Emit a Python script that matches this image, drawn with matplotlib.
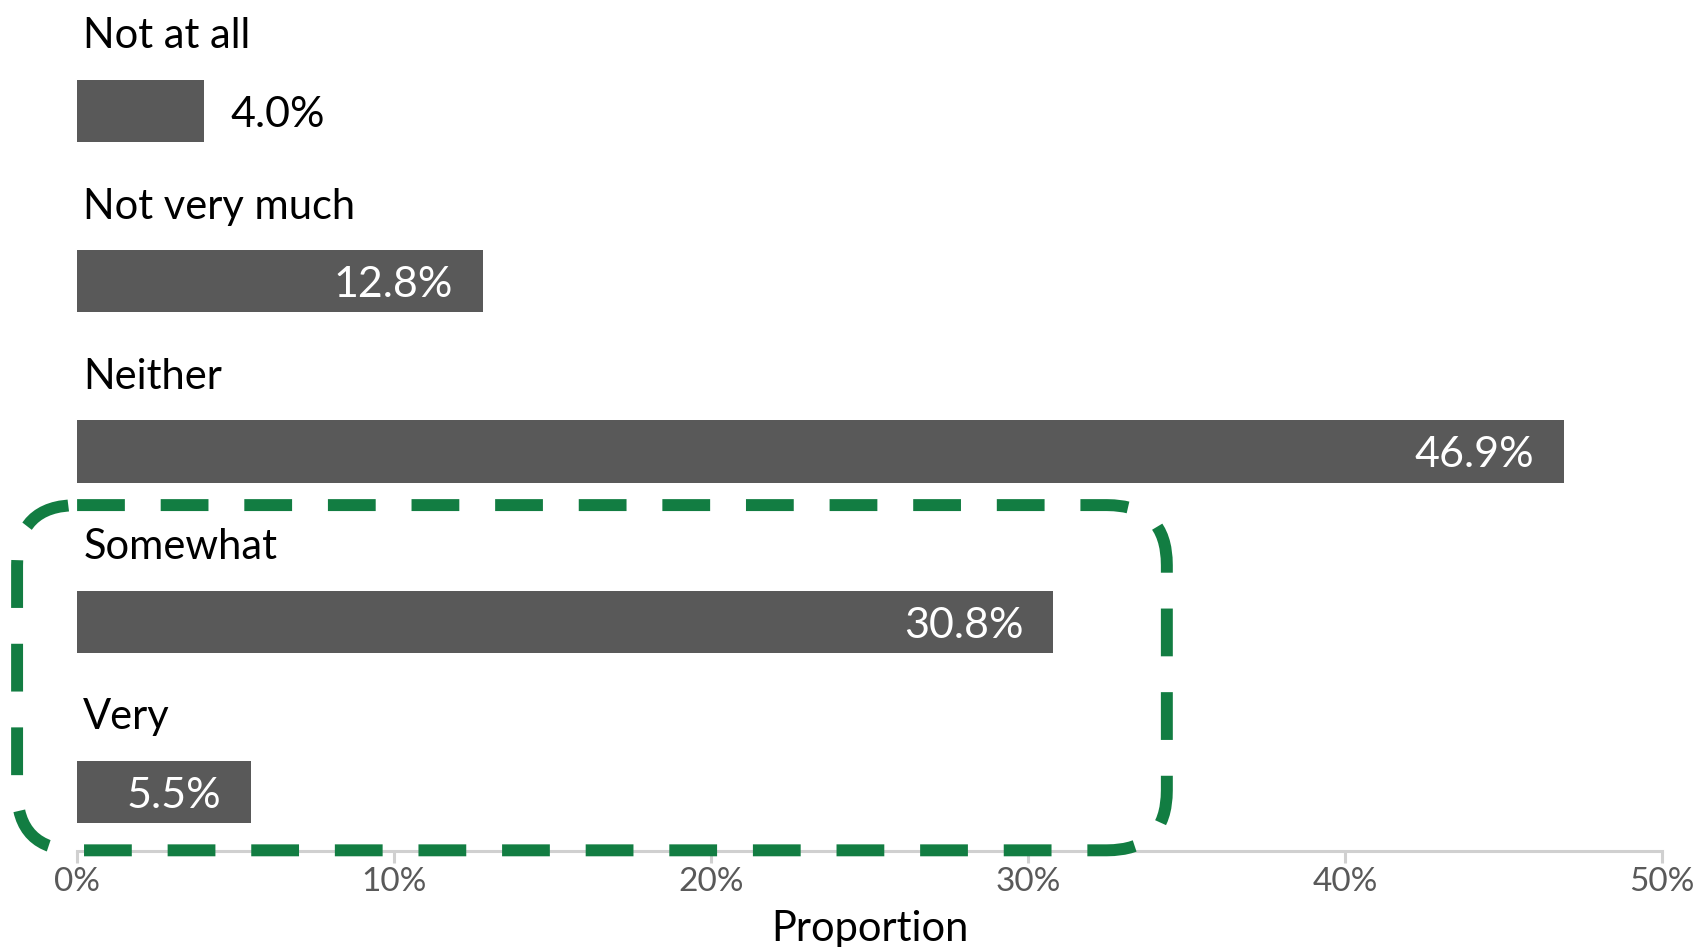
import matplotlib.pyplot as plt #графики
from matplotlib.patches import FancyBboxPatch #скругленная рамка

categories=["Not at all","Not very much","Neither","Somewhat","Very"] #категории ответов
values=[4.0,12.8,46.9,30.8,5.5] #доли в процентах
ticks=[0,10,20,30,40,50] #деления оси X
tick_labels=[f"{t}%" for t in ticks] #подписи делений

plt.rcParams['font.family']=['Lato','DejaVu Sans'] #шрифт

W,H=1696,947 #размер картинки в пикселях
fig=plt.figure(figsize=(W/100,H/100),dpi=100)
ax=fig.add_axes([77/W,1-851/H,(1662-77)/W,851/H]) #оси без полей сверху

y=list(range(len(categories))) #позиции категорий
ax.barh(y,values,height=0.365,color="#595959",zorder=2) #столбцы
ax.set_xlim(0,50)
ax.set_ylim(4.349,-0.655) #первая категория сверху

for i,(name,v) in enumerate(zip(categories,values)):
    ax.text(0.2,i-0.37,name,fontsize=30,va="baseline",ha="left",color="black") #название над столбцом
    if v>=5: #подпись внутри столбца
        ax.annotate(f"{v:.1f}%",(v,i),xytext=(-21.5,-11.5),textcoords="offset points",
                    ha="right",va="baseline",fontsize=31,color="white")
    else: #подпись справа от столбца
        ax.annotate(f"{v:.1f}%",(v,i),xytext=(19.5,-11.5),textcoords="offset points",
                    ha="left",va="baseline",fontsize=31,color="black")

ax.set_xticks(ticks)
ax.set_xticklabels(tick_labels)
ax.set_yticks([])
ax.tick_params(axis="x",length=8.6,width=2.2,color="#D0D0D0",labelsize=24,labelcolor="#595959",pad=3)
ax.set_xlabel("Proportion",fontsize=30,labelpad=9)
for s in ["top","right","left"]:
    ax.spines[s].set_visible(False)
ax.spines["bottom"].set_color("#D0D0D0")
ax.spines["bottom"].set_linewidth(2.2)

#зеленая пунктирная рамка вокруг Somewhat и Very
px_x=1585/50 #пикселей на 1% по X
px_y=170 #пикселей на категорию по Y
r=60/px_x #радиус скругления в единицах X
box=FancyBboxPatch((-1.89,2.315),34.38+1.89,4.345-2.315,boxstyle=f"round,pad=0,rounding_size={r}",
                   mutation_aspect=px_x/px_y,fill=False,edgecolor="#127D42",linewidth=8.6,
                   linestyle=(0,(4,3)),clip_on=False,zorder=5)
ax.add_patch(box)

plt.savefig("out.png",dpi=100)
plt.close()
